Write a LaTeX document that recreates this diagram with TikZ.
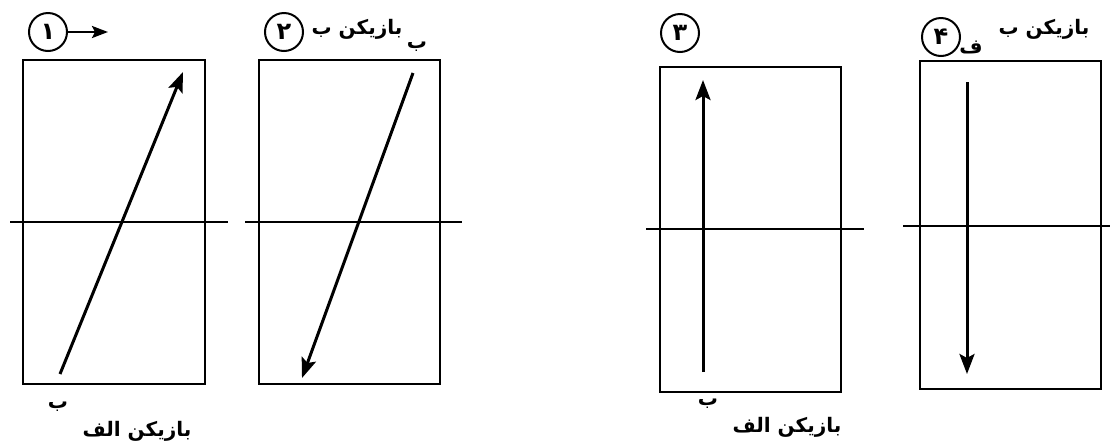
\documentclass[tikz,border=0pt]{standalone}
\usepackage{fontspec}
\newfontfamily\arabicfont[Script=Arabic]{DejaVu Sans}
\TeXXeTstate=1
\usetikzlibrary{arrows.meta}

\begin{document}
\begin{tikzpicture}[
    x=0.5pt, y=-0.5pt,
    frame/.style={draw, line width=0.65pt},
    axis/.style={draw, line width=0.55pt},
    vec/.style={draw, line width=1.5pt, -{Stealth[length=10pt, width=7.5pt, inset=2pt]}},
    num/.style={draw, circle, line width=1pt, minimum size=19pt, inner sep=0pt, font=\arabicfont\bfseries\fontsize{12}{13}\selectfont},
    lab/.style={inner sep=0pt, font=\arabicfont\bfseries\fontsize{10}{11}\selectfont}
]
\useasboundingbox (0,0) rectangle (1110,446);

% 4 cadres
\foreach \n/\l/\r/\t/\b in {1/23/205/60/384, 2/259/440/60/384, 3/660/841/67/392, 4/920/1101/61/389} {
    \draw[frame] (\l,\t) rectangle (\r,\b);
}

% lignes horizontales
\foreach \n/\a/\e/\h in {1/10/228/222, 2/245/462/222, 3/646/864/229, 4/903/1110/226} {
    \coordinate (h\n a) at (\a,\h);
    \coordinate (h\n e) at (\e,\h);
    \draw[axis] (h\n a) -- (h\n e);
}

% vecteurs
\foreach \n/\xa/\ya/\xb/\yb in {1/60/374/183/72, 2/413/73/302/378, 3/703/372/703/80, 4/967/82/967/374} {
    \coordinate (s\n) at (\xa,\ya);
    \coordinate (e\n) at (\xb,\yb);
    \draw[vec] (s\n) -- (e\n);
}

% numéros
\node[num] (c1) at (48,32) {۱};
\node[num] (c2) at (284,32) {۲};
\node[num] (c3) at (680,33) {۳};
\node[num] (c4) at (941,37) {۴};
\coordinate (m1) at (108,32);
\draw[line width=1.2pt, -{Stealth[length=8pt, width=6pt, inset=1.5pt]}] (c1) -- (m1);

% joueurs
\node[lab] (j2) at (357,29) {\beginR بازیکن ب\endR};
\node[lab] (b2) at (417,47) {\beginR ب\endR};
\node[lab] (j4) at (1044,29) {\beginR بازیکن ب\endR};
\node[lab] (f4) at (971,47) {\beginR ف\endR};
\node[lab] (b1) at (58,407) {\beginR ب\endR};
\node[lab] (j1) at (137,431) {\beginR بازیکن الف\endR};
\node[lab] (b3) at (708,404) {\beginR ب\endR};
\node[lab] (j3) at (787,427) {\beginR بازیکن الف\endR};
\end{tikzpicture}
\end{document}
